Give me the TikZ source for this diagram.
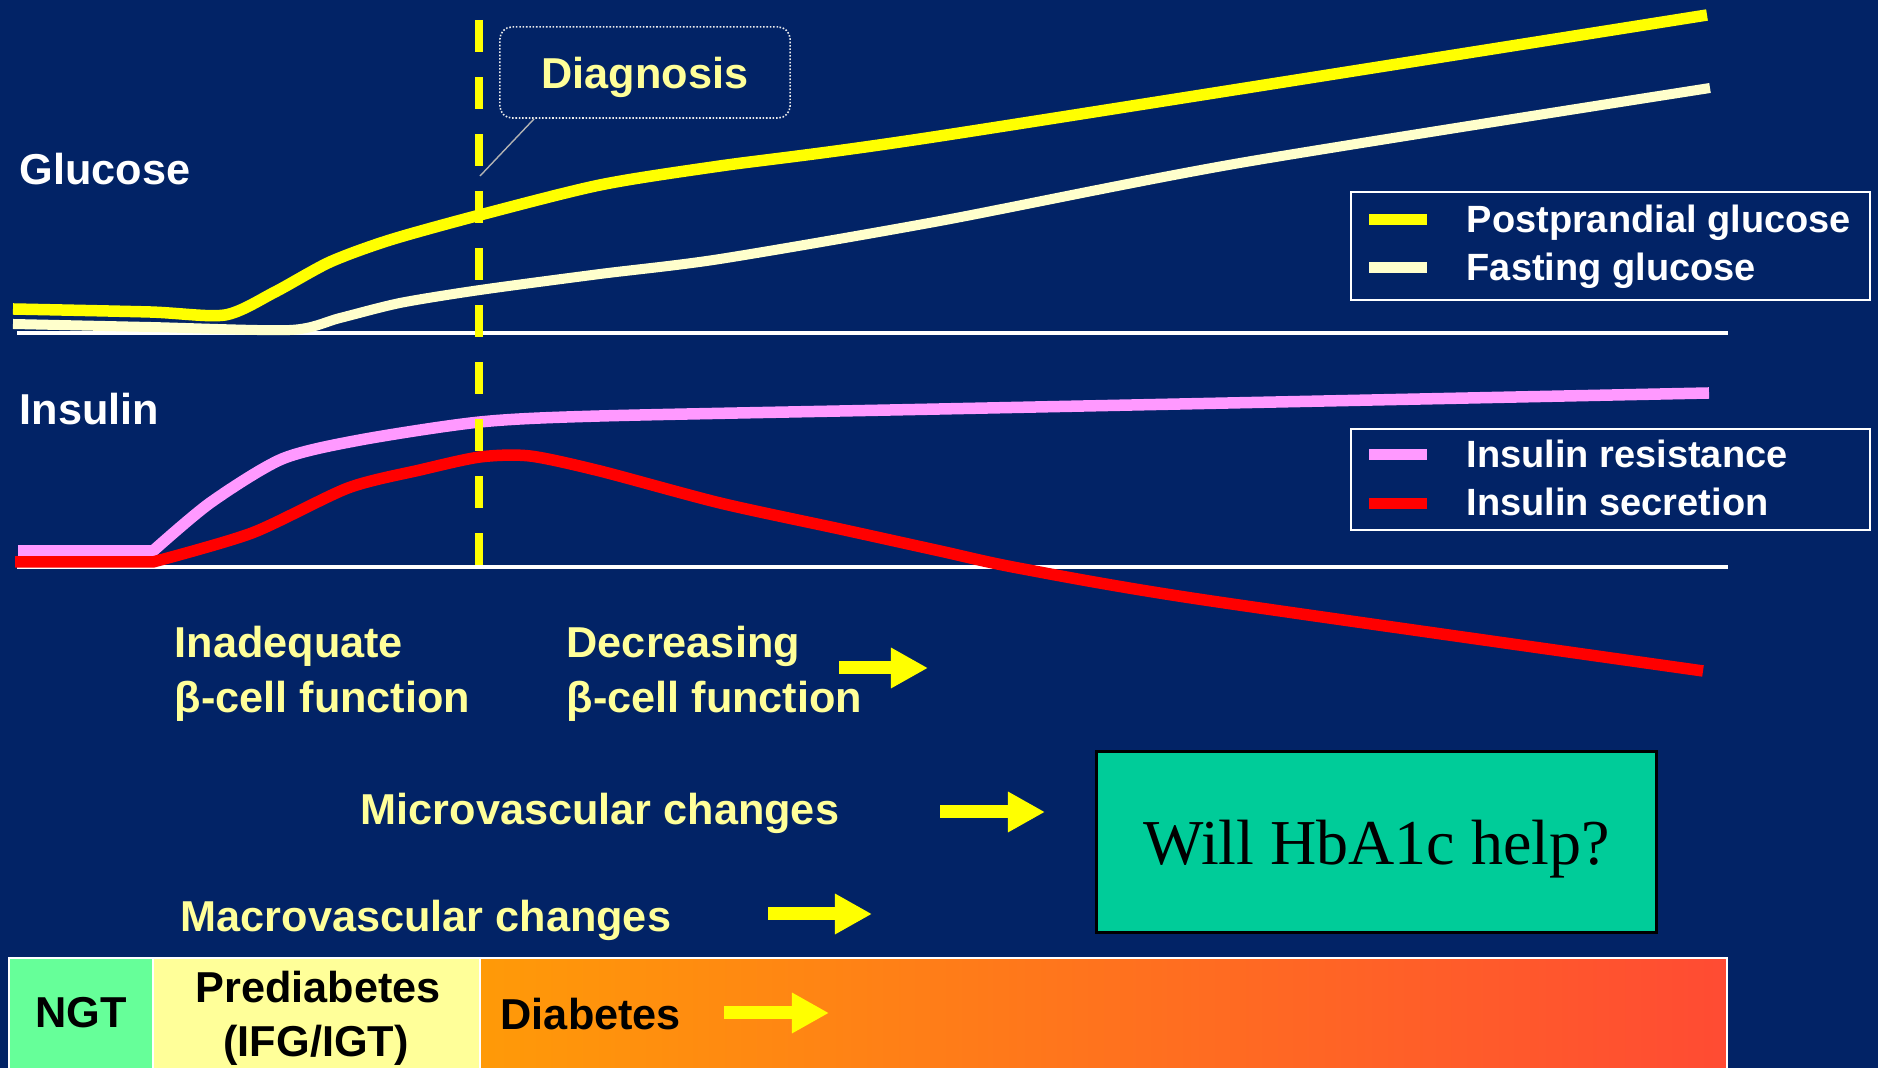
\documentclass[tikz,border=0pt]{standalone}
\usepackage{fontspec}
\setmainfont{Liberation Sans}
\newfontfamily\willfont{Liberation Serif}
\usetikzlibrary{arrows.meta}

\definecolor{bgnavy}{HTML}{022366}
\definecolor{ppyel}{HTML}{FFFF00}
\definecolor{fastcream}{HTML}{FFFFCC}
\definecolor{respink}{HTML}{FF99FF}
\definecolor{secred}{HTML}{FF0000}
\definecolor{lblyel}{HTML}{FFFF99}
\definecolor{ngtgreen}{HTML}{66FF99}
\definecolor{prediab}{HTML}{FFFF99}
\definecolor{diabL}{HTML}{FF9A08}
\definecolor{diabR}{HTML}{FF4B33}
\definecolor{willteal}{HTML}{00CC99}

\newcommand\lblfont{\fontsize{12.3}{14}\selectfont\bfseries}
\newcommand\legfont{\fontsize{10.8}{13}\selectfont\bfseries}

\begin{document}
\begin{tikzpicture}[x=0.01cm, y=-0.01cm,
    curve/.style={line width=1.15mm, line join=round},
    axisline/.style={draw=white, line width=0.9pt},
    diagline/.style={draw=ppyel, line width=0.8mm, dash pattern=on 3.2mm off 2.5mm},
    callout/.style={draw=white!85!gray, line width=0.45pt, dash pattern=on 0.45pt off 0.5pt,
                    rounded corners=1.2mm, minimum width=2.9cm, minimum height=0.91cm,
                    text=lblyel, font=\lblfont, text depth=0pt},
    pointer/.style={draw=gray!60!white, line width=0.4pt},
    side/.style={font=\lblfont, text=white, inner sep=0pt, anchor=base west},
    stage/.style={font=\lblfont, text=lblyel, inner sep=0pt, anchor=base west},
    legbox/.style={draw=white, line width=0.7pt, minimum width=5.19cm},
    legtext/.style={font=\legfont, text=white, inner sep=0pt, anchor=base west},
    swatch/.style={line width=1.1mm},
    barrow/.style={draw=ppyel, line width=1.3mm, -{Triangle[length=3.7mm, width=3.8mm]}},
    bartext/.style={font=\lblfont, text=black, inner sep=0pt, anchor=base},
    willbox/.style={draw=black, line width=0.85pt, fill=willteal, minimum width=5.59cm,
                    minimum height=1.8cm, font=\willfont\fontsize{18.2}{20}\selectfont,
                    text depth=0pt},
]
\fill[bgnavy] (0,0) rectangle (1878,1068);
\useasboundingbox (0,0) rectangle (1878,1068);

% baselines of the two panels
\draw[axisline] (17,333) -- (1728,333);
\draw[axisline] (17,567) -- (1728,567);

% glucose
\draw[curve, fastcream, line width=1.0mm] plot[smooth, tension=0.45] coordinates
   {(13,324) (150,327) (290,330) (340,318) (400,303) (480,290) (600,274) (720,259) (940,221) (1240,163) (1710,88)};
\draw[curve, ppyel] plot[smooth, tension=0.45] coordinates
   {(13,309) (150,312) (225,315) (275,292) (330,262) (390,240) (480,215) (600,185) (720,166) (940,136) (1707,15)};

% insulin
\draw[curve, respink] (18,551) -- plot[smooth, tension=0.45] coordinates
   {(153,551) (210,503) (282,459) (360,440) (480,422) (600,416) (940,409) (1709,393)};
\draw[curve, secred] (15,562) -- plot[smooth, tension=0.45] coordinates
   {(153,562) (252,533) (348,488) (420,470) (480,457) (530,456) (600,471) (720,503) (840,529) (940,551) (1018,568) (1198,599) (1703,671)};

% diagnosis
\coordinate (dtop) at (479,20);
\coordinate (dbot) at (479,567);
\draw[diagline] (dtop) -- (dbot);
\node[callout] (diag) at (645,72.5) {Diagnosis};
\coordinate (diagpt) at (480,176);
\draw[pointer] ([xshift=0.35cm]diag.south west) -- (diagpt);

\node[side] (glu) at (19,185) {Glucose};
\node[side] (ins) at (19,425) {Insulin};

% legends
\node[legbox, minimum height=1.08cm] (legG) at (1610.5,246) {};
\draw[swatch, ppyel] (1369,220) -- (1427,220);
\node[legtext] (lpp) at (1466,233) {Postprandial glucose};
\draw[swatch, fastcream] (1369,268) -- (1427,268);
\node[legtext] (lfg) at (1466,281) {Fasting glucose};
\node[legbox, minimum height=1.01cm] (legI) at (1610.5,479.5) {};
\draw[swatch, respink] (1369,455) -- (1427,455);
\node[legtext] (lir) at (1466,468) {Insulin resistance};
\draw[swatch, secred] (1369,504) -- (1427,504);
\node[legtext] (lis) at (1466,516) {Insulin secretion};

% beta-cell and vascular notes
\node[stage] (inad1) at (174,658) {Inadequate};
\node[stage] (inad2) at (174,713) {β-cell function};
\node[stage] (decr1) at (566,658) {Decreasing};
\node[stage] (decr2) at (566,713) {β-cell function};
\draw[barrow] (839,668) -- (928,668);
\node[stage] (micro) at (360,825) {Microvascular changes};
\draw[barrow] (940,812) -- (1045,812);
\node[stage] (macro) at (180,932) {Macrovascular changes};
\draw[barrow] (768,914) -- (872,914);

\node[willbox] (will) at (1376.5,842) {Will HbA1c help?};

% stages bar
\fill[ngtgreen] (9,958) rectangle (153,1068);
\fill[prediab] (153,958) rectangle (480,1068);
\shade[left color=diabL, right color=diabR] (480,958) rectangle (1727,1068);
\draw[white, line width=0.5pt] (9,1068) -- (9,958) -- (1727,958) -- (1727,1068);
\draw[white, line width=0.5pt] (153,958) -- (153,1068) (480,958) -- (480,1068);
\node[bartext] (ngt) at (81,1028) {NGT};
\node[bartext] (pre1) at (318,1003) {Prediabetes};
\node[bartext] (pre2) at (316,1057) {(IFG/IGT)};
\node[bartext, anchor=base west] (dia) at (500,1030) {Diabetes};
\draw[barrow] (724,1013) -- (829,1013);
\end{tikzpicture}
\end{document}
